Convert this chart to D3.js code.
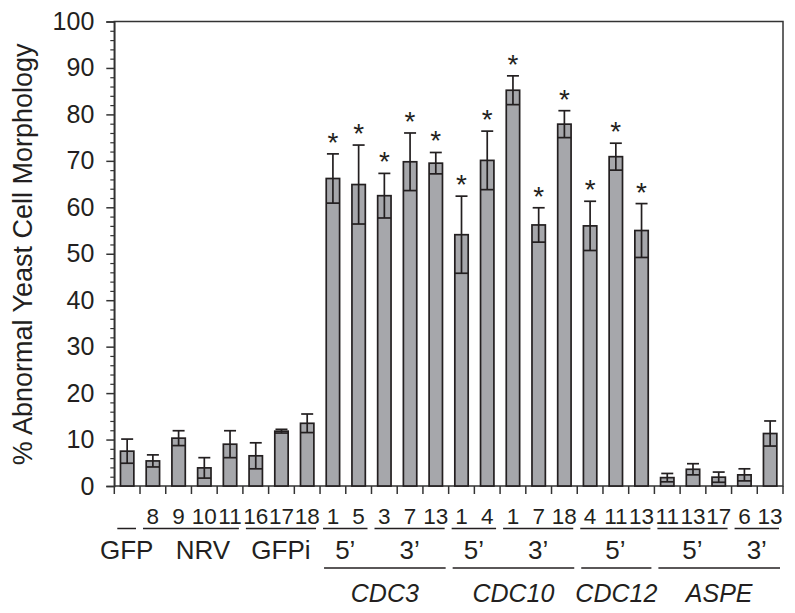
<!DOCTYPE html>
<html>
<head>
<meta charset="utf-8">
<script src="https://cdn.jsdelivr.net/npm/d3@7"></script>
<style>
  html, body { margin: 0; padding: 0; background: #fff; }
  svg { display: block; }
  text { font-family: "Liberation Sans", Arial, Helvetica, sans-serif; fill: #231f20; }
</style>
</head>
<body>
<svg id="chart" width="795" height="613"></svg>
<script>
// ---- data ----
const cloneLabels = ["", "8", "9", "10", "11", "16", "17", "18", "1", "5", "3", "7", "13", "1", "4", "1", "7", "18", "4", "11", "13", "11", "13", "17", "6", "13"];
const values      = [7.5, 5.4, 10.3, 3.9, 9.0, 6.5, 11.8, 13.5, 66.2, 64.9, 62.5, 69.8, 69.5, 54.1, 70.1, 85.2, 56.2, 77.9, 56.0, 70.9, 55.0, 1.8, 3.6, 1.9, 2.4, 11.3];
const errors      = [2.6, 1.3, 1.6, 2.2, 2.9, 2.8, 0.4, 2.0, 5.3, 8.5, 4.8, 6.2, 2.3, 8.3, 6.3, 3.1, 3.7, 2.9, 5.3, 2.9, 5.8, 0.9, 1.2, 1.1, 1.3, 2.7];
const significant = [0, 0, 0, 0, 0, 0, 0, 0, 1, 1, 1, 1, 1, 1, 1, 1, 1, 1, 1, 1, 1, 0, 0, 0, 0, 0];
const subgroupNames = ["GFP", "NRV", "GFPi", "5\u2019", "3\u2019", "5\u2019", "3\u2019", "5\u2019", "5\u2019", "3\u2019"];
const subgroupFirst = [0, 1, 5, 8, 10, 13, 15, 18, 21, 24];
const subgroupLast  = [0, 4, 7, 9, 12, 14, 17, 20, 23, 25];
const geneNames = ["CDC3", "CDC10", "CDC12", "ASPE"];
const geneFirst = [8, 13, 18, 21];
const geneLast  = [12, 17, 20, 25];
const yTicks = [0, 10, 20, 30, 40, 50, 60, 70, 80, 90, 100];
const yTitle = "% Abnormal Yeast Cell Morphology";

// ---- layout ----
const svg = d3.select("#chart");
const L = 114.3, R = 783, T = 21.5, B = 486;
const ink = "#231f20";

const x = d3.scaleBand().domain(d3.range(values.length)).range([L, R])
  .paddingInner(0.48).paddingOuter(0.24);
const y = d3.scaleLinear().domain([0, 100]).range([B, T]);
const step = x.step();
const slotLeft = i => x(i) - step * x.paddingInner() / 2;
const slotRight = i => slotLeft(i) + step;

// frame
svg.append("rect").attr("x", L).attr("y", T).attr("width", R - L).attr("height", B - T)
  .attr("fill", "none").attr("stroke", "#333").attr("stroke-width", 1.5);

// y axis
const yAxis = d3.axisLeft(y).tickValues(yTicks).tickSize(8).tickPadding(12).tickFormat(d3.format("d"));
const gy = svg.append("g").attr("transform", `translate(${L},0)`).call(yAxis);
gy.select(".domain").attr("stroke", "#333").attr("stroke-width", 1.5);
gy.selectAll(".tick line").attr("stroke", "#333").attr("stroke-width", 1.5);
gy.selectAll(".tick text").attr("font-size", 25).attr("fill", ink)
  .attr("font-family", "'Liberation Sans', Arial, sans-serif");
// minor ticks
const yMinor = d3.axisLeft(y).tickValues(d3.range(0, 101, 2).filter(v => v % 10 !== 0)).tickSize(4).tickFormat("");
const gym = svg.append("g").attr("transform", `translate(${L},0)`).call(yMinor);
gym.select(".domain").remove();
gym.selectAll(".tick line").attr("stroke", "#333").attr("stroke-width", 1.2);

// x ticks at slot boundaries
const bounds = d3.range(values.length + 1).map(i => i < values.length ? slotLeft(i) : slotRight(values.length - 1));
svg.append("g").selectAll("line").data(bounds).join("line")
  .attr("x1", d => d).attr("x2", d => d).attr("y1", B).attr("y2", B + 8)
  .attr("stroke", "#333").attr("stroke-width", 1.5);

// bars
svg.append("g").selectAll("rect").data(values).join("rect")
  .attr("x", (d, i) => x(i)).attr("width", x.bandwidth())
  .attr("y", d => y(d)).attr("height", d => B - y(d))
  .attr("fill", "#a6a7ab").attr("stroke", ink).attr("stroke-width", 1.7);

// error bars
const cap = 12;
const eg = svg.append("g").attr("stroke", ink).attr("stroke-width", 1.7);
values.forEach((v, i) => {
  const cx = x(i) + x.bandwidth() / 2;
  const lo = Math.max(0, v - errors[i]), hi = v + errors[i];
  eg.append("line").attr("x1", cx).attr("x2", cx).attr("y1", y(lo)).attr("y2", y(hi));
  eg.append("line").attr("x1", cx - cap / 2).attr("x2", cx + cap / 2).attr("y1", y(hi)).attr("y2", y(hi));
  eg.append("line").attr("x1", x(i)).attr("x2", x(i) + x.bandwidth()).attr("y1", y(lo)).attr("y2", y(lo));
});

// significance asterisks
svg.append("g").selectAll("text").data(values.map((v, i) => ({ v, i })).filter(d => significant[d.i]))
  .join("text")
  .attr("x", d => x(d.i) + x.bandwidth() / 2)
  .attr("y", d => y(d.v + errors[d.i]) - 2)
  .attr("text-anchor", "middle").attr("font-size", 28)
  .text("*");

// clone numbers
svg.append("g").selectAll("text").data(cloneLabels).join("text")
  .attr("x", (d, i) => x(i) + x.bandwidth() / 2)
  .attr("y", 524)
  .attr("text-anchor", "middle").attr("font-size", 22.5)
  .text(d => d);

// subgroup lines and names
const subOffset = { 1: 12 };
subgroupNames.forEach((name, k) => {
  const a = slotLeft(subgroupFirst[k]) + 3, b = slotRight(subgroupLast[k]) - 4;
  svg.append("line").attr("x1", a).attr("x2", b).attr("y1", 528.5).attr("y2", 528.5)
    .attr("stroke", ink).attr("stroke-width", 1.5);
  svg.append("text").attr("x", (a + b) / 2 + (subOffset[k] || 0)).attr("y", 558.5)
    .attr("text-anchor", "middle").attr("font-size", 26).text(name);
});

// gene lines and names
geneNames.forEach((name, k) => {
  const a = slotLeft(geneFirst[k]) + 4, b = slotRight(geneLast[k]) - 3;
  svg.append("line").attr("x1", a).attr("x2", b).attr("y1", 568).attr("y2", 568)
    .attr("stroke", ink).attr("stroke-width", 1.5);
  svg.append("text").attr("x", (a + b) / 2).attr("y", 601.5)
    .attr("text-anchor", "middle").attr("font-size", 25).attr("font-style", "italic").text(name);
});

// y title
svg.append("text")
  .attr("transform", `translate(31.5,${(T + B) / 2 + 0.5}) rotate(-90)`)
  .attr("text-anchor", "middle").attr("font-size", 27)
  .text(yTitle);
</script>
</body>
</html>
